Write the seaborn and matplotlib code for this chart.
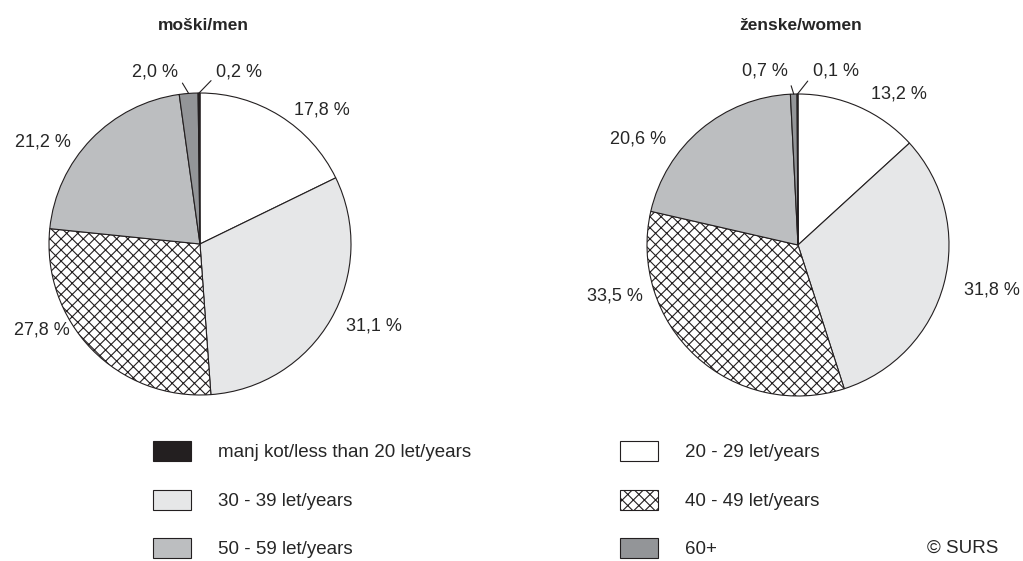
import numpy as np
import matplotlib
matplotlib.use("Agg")
import matplotlib.pyplot as plt
import seaborn as sns
from matplotlib.patches import Patch

# Data
categories = ["manj kot/less than 20 let/years", "20 - 29 let/years", "30 - 39 let/years",
              "40 - 49 let/years", "50 - 59 let/years", "60+"]
men = [0.2, 17.8, 31.1, 27.8, 21.2, 2.0]
women = [0.1, 13.2, 31.8, 33.5, 20.6, 0.7]
titles = ["moški/men", "ženske/women"]

# Styles per category
colors = ["#231f20", "#ffffff", "#e6e7e8", "#ffffff", "#bcbec0", "#939598"]
hatches = [None, None, None, "xxx", None, None]

# Pie is drawn clockwise from 12 o'clock, starting with 20-29
pie_order = [1, 2, 3, 4, 5, 0]

# Label placement (in pie-radius units), by category index
men_label_pos = {1: (0.81, 0.89), 2: (1.15, -0.54), 3: (-1.05, -0.57),
                 4: (-1.04, 0.675), 5: (-0.30, 1.14), 0: (0.26, 1.14)}
women_label_pos = {1: (0.67, 1.0), 2: (1.285, -0.30), 3: (-1.21, -0.34),
                   4: (-1.06, 0.70), 5: (-0.22, 1.15), 0: (0.25, 1.15)}
leader = {0, 5}  # small slices with leader lines

sns.set_theme(style="white")
plt.rcParams["font.family"] = ["Liberation Sans", "DejaVu Sans"]
plt.rcParams["hatch.linewidth"] = 0.8

fig = plt.figure(figsize=(10.23, 5.61), dpi=100)

W, H = 1023, 561
R = 151
centers = [(200, 244), (798, 245)]
FS = 13


def draw_pie(ax, values, label_pos):
    vals = [values[i] for i in pie_order]
    wedges, _ = ax.pie(vals, colors=[colors[i] for i in pie_order], startangle=90,
                       counterclock=False, radius=1,
                       wedgeprops=dict(edgecolor="#231f20", linewidth=0.8))
    for w, i in zip(wedges, pie_order):
        if hatches[i]:
            w.set_hatch(hatches[i])
        txt = f"{values[i]:.1f} %".replace(".", ",")
        lx, ly = label_pos[i]
        if i in leader:
            mid = np.deg2rad((w.theta1 + w.theta2) / 2)
            side = 1.0 if lx < 0 else 0.0
            ax.annotate(txt, xy=(np.cos(mid), np.sin(mid)), xytext=(lx, ly),
                        ha="center", va="center", fontsize=FS,
                        arrowprops=dict(arrowstyle="-", color="#231f20", lw=0.8,
                                        shrinkA=2, shrinkB=0, relpos=(side, 0.3)))
        else:
            ax.text(lx, ly, txt, ha="center", va="center", fontsize=FS)
    ax.set_xlim(-1, 1)
    ax.set_ylim(-1, 1)
    ax.set_aspect("equal")
    ax.axis("off")


for (cx, cy), values, pos, title in zip(centers, [men, women],
                                        [men_label_pos, women_label_pos], titles):
    ax = fig.add_axes([(cx - R) / W, (H - cy - R) / H, 2 * R / W, 2 * R / H])
    draw_pie(ax, values, pos)
    fig.text((cx + 3) / W, 1 - 25 / H, title, ha="center", va="center",
             fontsize=12.5, fontweight="bold")

# Legend: two columns of three entries
legend_cols = [[0, 2, 4], [1, 3, 5]]
legend_x = [153, 620]
LFS = 13.5
for col, x0 in zip(legend_cols, legend_x):
    handles = [Patch(facecolor=colors[i], edgecolor="#231f20", linewidth=0.8,
                     hatch=hatches[i], label=categories[i]) for i in col]
    fig.legend(handles=handles, loc="upper left",
               bbox_to_anchor=(x0 / W, 1 - 441 / H), frameon=False, fontsize=LFS,
               borderpad=0, borderaxespad=0, handlelength=2.03, handleheight=1.28,
               handletextpad=1.44, labelspacing=1.5)

fig.text(998 / W, 1 - 548 / H, "© SURS", ha="right", va="center", fontsize=LFS)

fig.savefig("out.png", dpi=100, facecolor="white")
